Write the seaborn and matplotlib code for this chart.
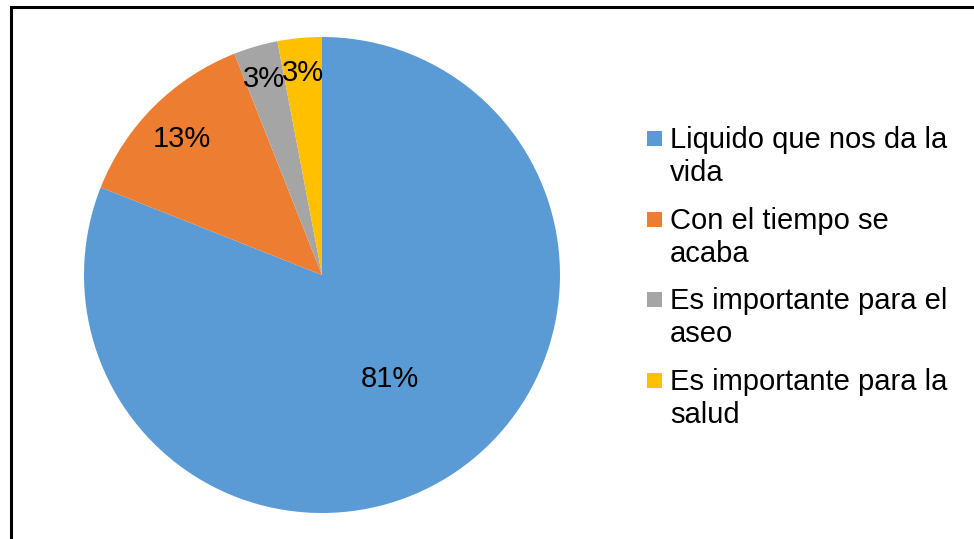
import numpy as np
import matplotlib
matplotlib.use("Agg")
import matplotlib.pyplot as plt
from matplotlib.patches import Rectangle
import seaborn as sns

categories = ["Liquido que nos da la\nvida", "Con el tiempo se\nacaba",
              "Es importante para el\naseo", "Es importante para la\nsalud"]
values = [81, 13, 3, 3]
colors = ["#5B9BD5", "#ED7D31", "#A5A5A5", "#FFC000"]
label_dist = [0.51, 0.83, 0.875, 0.87]

sns.set_theme(style="white")
plt.rcParams['font.family'] = ['Liberation Sans', 'DejaVu Sans']

W, H = 974, 539
fig = plt.figure(figsize=(W / 100, H / 100), dpi=100)
fig.patch.set_facecolor("white")

# outer frame (cut off at right and bottom like the reference)
fig.patches.append(Rectangle((10.5 / W, -0.1), 1.2, 1.1 - 7.5 / H,
                             transform=fig.transFigure, fill=False,
                             edgecolor="black", linewidth=2.2))

cx, cy, r = 322, 275, 238
ax = fig.add_axes([(cx - r) / W, (H - cy - r) / H, 2 * r / W, 2 * r / H])
pal = sns.color_palette(colors)
wedges, _ = ax.pie(values, colors=pal, startangle=90, counterclock=False,
                   wedgeprops=dict(edgecolor="none", linewidth=0))
ax.set_xlim(-1, 1)
ax.set_ylim(-1, 1)
ax.axis("off")

total = sum(values)
for w, v, d in zip(wedges, values, label_dist):
    th = np.deg2rad((w.theta1 + w.theta2) / 2)
    ax.annotate(f"{v / total * 100:.0f}%", (d * np.cos(th), d * np.sin(th)),
                xytext=(0, -2.7), textcoords="offset points",
                ha="center", va="center", fontsize=21, color="black")

# legend (handles aligned with the first line of each label)
fs = 21
lx_sq, lx_txt = 647, 670
y0, step = 131, 80.7
for i, (lab, c) in enumerate(zip(categories, pal)):
    ytop = y0 + i * step
    fig.patches.append(Rectangle((lx_sq / W, 1 - (ytop + 15) / H), 15 / W, 15 / H,
                                 transform=fig.transFigure, facecolor=c,
                                 edgecolor="none"))
    fig.text(lx_txt / W, 1 - (ytop - 5) / H, lab, fontsize=fs, ha="left",
             va="top", linespacing=1.22, color="black")

fig.savefig("out.png", dpi=100)
